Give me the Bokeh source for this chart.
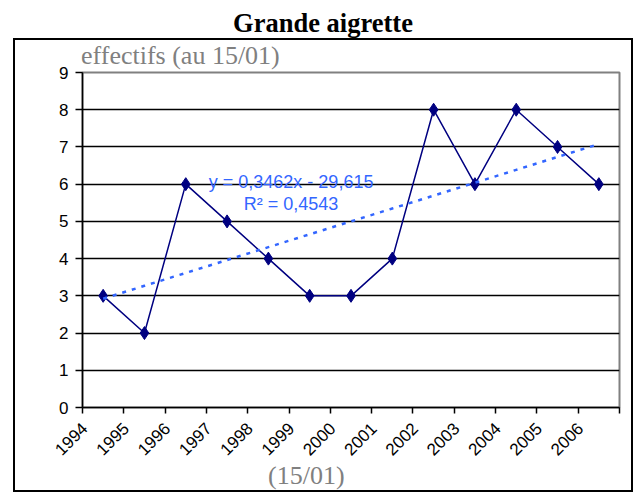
import numpy as np
from bokeh.plotting import figure
from bokeh.models import FixedTicker, Label, Range1d, Div
from bokeh.layouts import column
from bokeh.embed import file_html
from bokeh.resources import INLINE

# ---- data ----
years = [1994, 1995, 1996, 1997, 1998, 1999, 2000, 2001, 2002, 2003, 2004, 2005, 2006]
counts = [3, 2, 6, 5, 4, 3, 3, 4, 8, 6, 8, 7, 6]
y_ticks = [0, 1, 2, 3, 4, 5, 6, 7, 8, 9]
title_text = "Grande aigrette"
y_label = "effectifs (au 15/01)"
x_label = "(15/01)"
trend_eq = "y = 0,3462x - 29,615"
trend_r2 = "R² = 0,4543"

# linear trend (Excel-style, on the category index)
idx = np.arange(1, len(years) + 1)
slope, intercept = np.polyfit(idx, counts, 1)
trend = slope * idx + intercept

p = figure(width=616, height=427,
           x_range=Range1d(years[0] - 0.5, years[-1] + 0.5),
           y_range=Range1d(0, 9),
           min_border_left=67, min_border_right=12,
           min_border_top=14, min_border_bottom=78,
           output_backend="svg", toolbar_location=None)
p.margin = 0
p.background_fill_color = "white"
p.border_fill_color = None
p.outline_line_color = "#808080"
p.outline_line_width = 2

# grid
p.xgrid.visible = False
p.ygrid.ticker = FixedTicker(ticks=y_ticks[:-1])
p.ygrid.grid_line_color = "black"
p.ygrid.grid_line_width = 1.5

# x axis: rotated labels set to the left of the category centre,
# tick marks between categories
label_pos = [y - 0.45 for y in years]
xa = p.xaxis[0]
xa.ticker = FixedTicker(ticks=label_pos,
                        minor_ticks=[y - 0.5 for y in years] + [years[-1] + 0.5])
xa.major_label_overrides = {lp: str(y) for lp, y in zip(label_pos, years)}
xa.major_tick_in = 0
xa.major_tick_out = 0
xa.minor_tick_in = 0
xa.minor_tick_out = 6
xa.minor_tick_line_color = "black"
xa.minor_tick_line_width = 1.5
xa.major_label_orientation = np.pi / 4
xa.major_label_text_font = "Liberation Sans"
xa.major_label_text_font_size = "17px"
xa.major_label_text_color = "black"
xa.major_label_standoff = 12
xa.axis_line_color = "black"
xa.axis_line_width = 1.5

# y axis
ya = p.yaxis[0]
ya.ticker = FixedTicker(ticks=y_ticks)
ya.major_tick_in = 0
ya.major_tick_out = 7
ya.major_tick_line_width = 1.5
ya.minor_tick_line_color = None
ya.major_label_text_font = "Liberation Sans"
ya.major_label_text_font_size = "17px"
ya.major_label_text_color = "black"
ya.major_label_standoff = 7
ya.axis_line_color = "black"
ya.axis_line_width = 1.5

# series
p.line(years, counts, line_color="#000080", line_width=1.5)
p.scatter(years, counts, marker="diamond", size=13, color="#000080")

# trend line
p.line(years, trend, line_color="#3366FF", line_width=2.5, line_dash="4 6")

# trend equation
p.add_layout(Label(x=1998.55, y=6.045, text=trend_eq,
                   text_font="Liberation Sans", text_font_size="18px",
                   text_color="#3366FF", text_align="center",
                   text_baseline="alphabetic"))
p.add_layout(Label(x=1998.55, y=5.48, text=trend_r2,
                   text_font="Liberation Sans", text_font_size="18px",
                   text_color="#3366FF", text_align="center",
                   text_baseline="alphabetic"))

ylab = Div(text=y_label, width=616, height=18, margin=0,
           styles={"font-family": "Liberation Serif", "font-size": "26px",
                   "text-indent": "66px", "line-height": "32px",
                   "color": "#808080", "white-space": "nowrap"})

xlab = Div(text='<span style="position:relative;top:-9px">' + x_label + '</span>',
           width=616, height=5, margin=0,
           styles={"font-family": "Liberation Serif", "font-size": "26px",
                   "text-indent": "253px", "line-height": "0px",
                   "color": "#808080", "white-space": "nowrap"})

inner = column(ylab, p, xlab, spacing=0, margin=(0, 0, 0, 5),
               styles={"border": "2px solid black", "background": "white"})

title = Div(text=title_text, width=630, height=30, margin=0,
            styles={"font-family": "Liberation Serif", "font-weight": "bold",
                    "font-size": "26.5px", "text-align": "center",
                    "line-height": "30px", "color": "black"})

layout = column(title, inner, spacing=0, margin=(8, 0, 0, 8))

with open("out.html", "w") as f:
    f.write(file_html(layout, INLINE))
